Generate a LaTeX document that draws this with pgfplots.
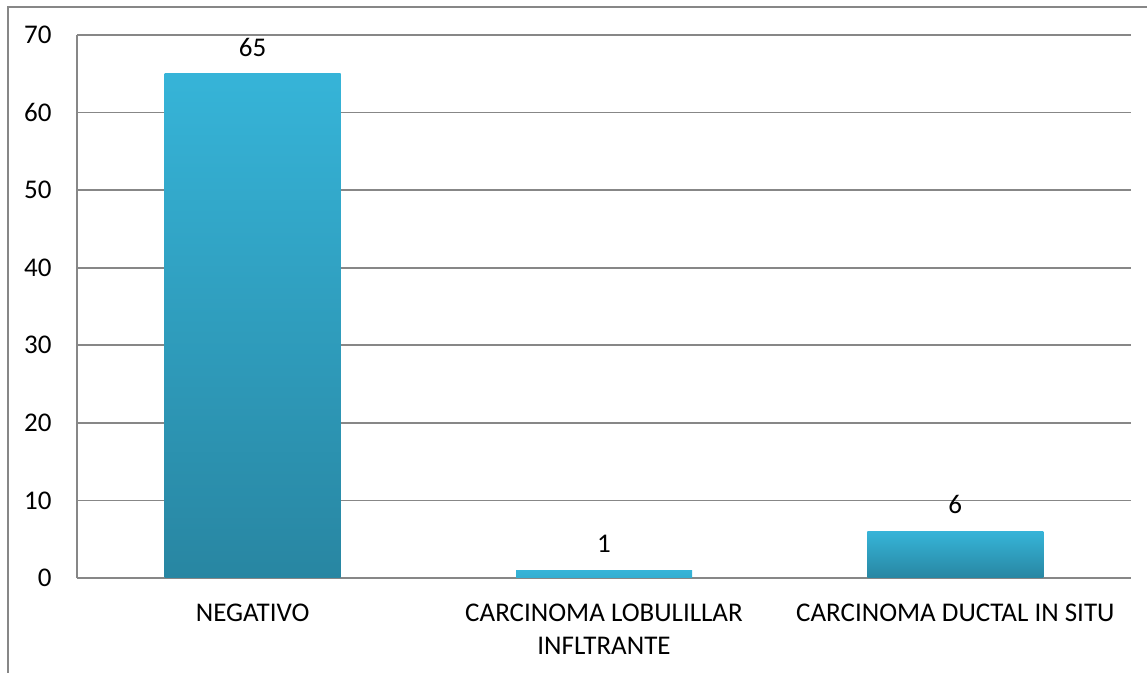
\documentclass[border=0pt]{standalone}
\usepackage{pgfplots}
\pgfplotsset{compat=1.18}
\usepackage{fontspec}
\setmainfont{Carlito}
\definecolor{barTop}{HTML}{36B4D8}
\definecolor{barBot}{HTML}{2886A2}
\definecolor{gridc}{HTML}{878787}

\begin{document}
\fontsize{13.5bp}{16.5bp}\selectfont
\begin{tikzpicture}
\begin{axis}[
    name=ax,
    scale only axis,
    width=527bp, height=271.5bp,
    xmin=-0.5, xmax=2.5,
    ymin=0, ymax=70,
    ytick={0,10,...,70},
    xtick={0,1,2},
    xticklabels={NEGATIVO, {CARCINOMA LOBULILLAR\\INFLTRANTE}, CARCINOMA DUCTAL IN SITU},
    xticklabel style={align=center, anchor=north, yshift=-8.5bp},
    yticklabel style={xshift=-8bp},
    ticklabel style={font=\fontsize{13.5bp}{16.5bp}\selectfont},
    /pgf/number format/assume math mode=true,
    major tick length=0pt,
    tick style={draw=none},
    ymajorgrids=true,
    grid style={gridc, line width=0.8bp},
    axis x line*=bottom,
    axis y line*=left,
    axis line style={gridc, line width=0.8bp, -},
    nodes near coords,
    nodes near coords style={font=\fontsize{13.5bp}{16.5bp}\selectfont, anchor=south, yshift=4bp, black},
    every axis plot/.append style={ybar, bar width=88bp, bar shift=0pt, draw=none},
  ]
  % one plot per bar, so that each bar gets its own gradient
  \addplot[top color=barTop, bottom color=barBot] coordinates {(0,65)};
  \addplot[top color=barTop, bottom color=barTop!85!barBot] coordinates {(1,1)};
  \addplot[top color=barTop, bottom color=barBot] coordinates {(2,6)};
  \coordinate (O) at (rel axis cs:0,0);
\end{axis}
\draw[gridc, line width=0.75bp] ([shift={(-34.5bp,-50bp)}]O) -- ([shift={(-34.5bp,285.5bp)}]O) -- ([shift={(540bp,285.5bp)}]O);
\pgfresetboundingbox
\path[use as bounding box] ([shift={(-38.5bp,-47.5bp)}]O) rectangle ([shift={(535bp,289bp)}]O);
\end{tikzpicture}
\end{document}
